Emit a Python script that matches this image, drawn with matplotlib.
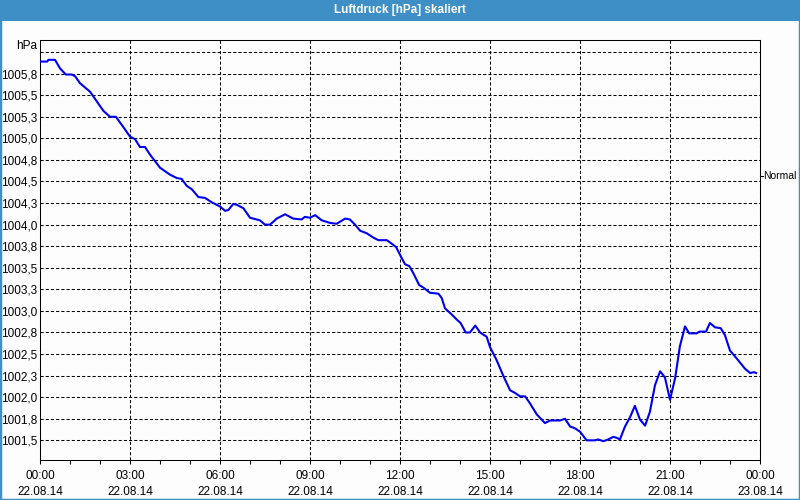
import math
from datetime import datetime, timedelta

import numpy as np
import matplotlib
matplotlib.use("Agg")
import matplotlib.pyplot as plt
import matplotlib.dates as mdates
from matplotlib.patches import Rectangle
from matplotlib.ticker import FuncFormatter

# Luftdruck values (hours since 22.08.14 00:00, hPa)
hours = [0.00, 0.24, 0.28, 0.50, 0.67, 0.86, 1.06, 1.17, 1.33, 1.67,
         1.89, 2.11, 2.33, 2.53, 2.78, 3.00, 3.17, 3.33, 3.50, 3.67,
         4.00, 4.33, 4.56, 4.72, 4.89, 5.06, 5.28, 5.50, 5.72, 6.00,
         6.17, 6.28, 6.44, 6.56, 6.78, 7.00, 7.33, 7.50, 7.67, 7.89,
         8.17, 8.44, 8.72, 8.83, 9.00, 9.17, 9.39, 9.67, 9.89, 10.17,
         10.33, 10.50, 10.67, 10.89, 11.11, 11.28, 11.56, 11.72, 11.87, 12.06,
         12.17, 12.31, 12.44, 12.64, 12.78, 13.00, 13.28, 13.39, 13.50, 13.72,
         13.89, 14.02, 14.19, 14.33, 14.51, 14.67, 14.89, 15.00, 15.22, 15.44,
         15.67, 15.83, 16.00, 16.17, 16.33, 16.56, 16.83, 17.00, 17.33, 17.50,
         17.67, 17.83, 18.00, 18.22, 18.50, 18.61, 18.78, 18.94, 19.11, 19.22,
         19.33, 19.50, 19.67, 19.83, 20.00, 20.17, 20.33, 20.50, 20.67, 20.83,
         21.00, 21.17, 21.33, 21.50, 21.64, 21.89, 21.98, 22.20, 22.33, 22.50,
         22.69, 22.83, 23.00, 23.22, 23.50, 23.67, 23.80, 23.87]
pressure = [1005.89, 1005.89, 1005.91, 1005.91, 1005.81, 1005.74, 1005.74, 1005.72, 1005.64, 1005.54,
            1005.43, 1005.32, 1005.25, 1005.25, 1005.13, 1005.02, 1004.99, 1004.90, 1004.90, 1004.81,
            1004.66, 1004.58, 1004.54, 1004.53, 1004.45, 1004.41, 1004.32, 1004.31, 1004.26, 1004.21,
            1004.16, 1004.17, 1004.24, 1004.23, 1004.19, 1004.08, 1004.05, 1004.00, 1004.00, 1004.07,
            1004.12, 1004.07, 1004.06, 1004.09, 1004.08, 1004.11, 1004.05, 1004.02, 1004.01, 1004.07,
            1004.06, 1004.00, 1003.93, 1003.90, 1003.85, 1003.82, 1003.82, 1003.78, 1003.74, 1003.61,
            1003.54, 1003.52, 1003.44, 1003.30, 1003.27, 1003.21, 1003.20, 1003.15, 1003.03, 1002.96,
            1002.90, 1002.86, 1002.75, 1002.75, 1002.83, 1002.75, 1002.70, 1002.58, 1002.43, 1002.25,
            1002.08, 1002.05, 1002.01, 1002.01, 1001.93, 1001.80, 1001.70, 1001.73, 1001.73, 1001.75,
            1001.66, 1001.64, 1001.60, 1001.50, 1001.50, 1001.51, 1001.49, 1001.51, 1001.54, 1001.53,
            1001.51, 1001.66, 1001.77, 1001.90, 1001.74, 1001.67, 1001.83, 1002.14, 1002.30, 1002.23,
            1001.97, 1002.22, 1002.59, 1002.82, 1002.74, 1002.74, 1002.76, 1002.76, 1002.86, 1002.81,
            1002.80, 1002.72, 1002.54, 1002.45, 1002.33, 1002.28, 1002.29, 1002.28]

title = "Luftdruck [hPa] skaliert"
unit_label = "hPa"
series_name = "Normal"

start = datetime(2014, 8, 22)
end = start + timedelta(days=1)
times = [start + timedelta(hours=h) for h in hours]

BG = "#fcfdfc"
BAR = "#3d8fc6"
LINE = "#0000f0"

plt.rcParams["font.family"] = ["Liberation Sans", "DejaVu Sans"]
plt.rcParams["font.size"] = 8

fig = plt.figure(figsize=(8, 5), dpi=100, facecolor=BG)

# Title bar and window border
fig.patches.append(Rectangle((0, 0.959), 1, 0.041, transform=fig.transFigure,
                             facecolor=BAR, edgecolor="none", zorder=0))
fig.patches.append(Rectangle((0, 0), 1, 1, transform=fig.transFigure,
                             facecolor="none", edgecolor=BAR, linewidth=2.5, zorder=1))
fig.text(0.5, 0.979, title, color="white", ha="center", va="center",
         fontsize=8.5, fontweight="bold")

ax = fig.add_axes([0.05, 0.08, 0.9, 0.84])
ax.set_facecolor(BG)
ax.plot(times, pressure, color=LINE, linewidth=1.5, zorder=3)

ax.set_xlim(start, end)
ax.set_ylim(1001.272, 1006.14)

# X axis: labelled grid every 3 hours, small ticks every hour
ax.xaxis.set_major_locator(mdates.HourLocator(byhour=range(0, 24, 3)))
ax.xaxis.set_minor_locator(mdates.HourLocator())
ax.xaxis.set_major_formatter(mdates.DateFormatter("%H:%M\n%d.%m.%y"))
ax.tick_params(axis="x", which="both", direction="out", length=3, width=0.75,
               pad=4, labelsize=8.5)
for lbl in ax.get_xticklabels():
    lbl.set_linespacing(1.45)

# Y axis: grid every 0.25 hPa, labels rounded to one decimal
ax.set_yticks(np.arange(1001.5, 1006.01, 0.25))


def fmt_hpa(v, pos):
    if v > 1005.9:
        return ""
    return f"{math.floor(v * 10 + 0.5) / 10:.1f}".replace(".", ",")


ax.yaxis.set_major_formatter(FuncFormatter(fmt_hpa))
ax.tick_params(axis="y", length=0, pad=2, labelsize=8.5)

ax.grid(True, which="major", color="black", linewidth=0.75, linestyle=(0, (3, 2)))
for sp in ax.spines.values():
    sp.set_linewidth(0.75)
    sp.set_color("black")

# Unit label top left and series name on the right
fig.text(0.047, 0.908, unit_label, ha="right", va="center", fontsize=8.5)
fig.text(763 / 800, 1 - 176 / 500, series_name, ha="left", va="center", fontsize=7.5)
fig.add_artist(plt.Line2D([760 / 800, 763 / 800], [1 - 176 / 500, 1 - 176 / 500],
                          transform=fig.transFigure, color="black", linewidth=0.75))

fig.savefig("out.png", dpi=100, facecolor=BG)
